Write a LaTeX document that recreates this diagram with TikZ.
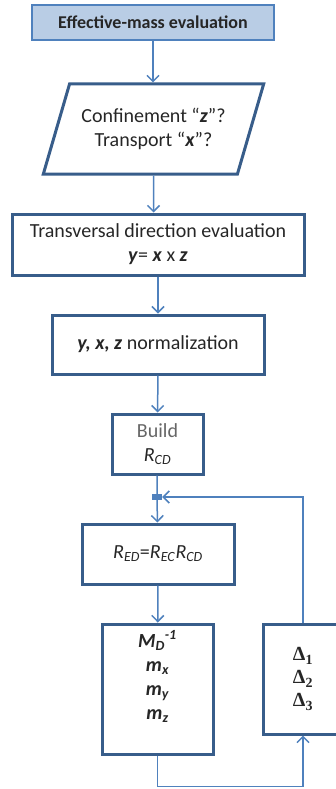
\documentclass[tikz,border=0pt]{standalone}
\usepackage{fontspec}
\setmainfont{Carlito}
\newfontfamily\deltafont{Liberation Serif}
\usetikzlibrary{arrows.meta,calc,shapes.geometric}
\definecolor{bordo}{RGB}{56,93,138}
\definecolor{linea}{RGB}{79,129,189}
\definecolor{sfondo}{RGB}{185,205,229}
\tikzset{
>={Straight Barb[length=6pt,width=12pt]},
step node/.style={rectangle,draw=bordo,line width=3pt,align=center,inner sep=1pt},
title node/.style={rectangle,draw=linea,fill=sfondo,line width=1.5pt,align=center,font=\fontsize{18}{22}\selectfont\bfseries},
input node/.style={trapezium,trapezium left angle=64,trapezium right angle=116,trapezium stretches=true,draw=bordo,line width=3pt,align=center},
freccia/.style={->,draw=linea,line width=1.5pt}}

\begin{document}
\begin{tikzpicture}[x=1pt,y=-1pt,font=\fontsize{20}{24}\selectfont,text=black!85]
      \useasboundingbox (0,0) rectangle (335,789);

      \node[title node,minimum width=242pt,minimum height=35pt] (1) at (153,22.5) {Effective-mass evaluation};
      \node[input node,minimum width=221pt,minimum height=90pt] (2) at (153.5,129) {Confinement ``\textbf{\textit{z}}''?\\ Transport ``\textbf{\textit{x}}''?};
      \node[step node,minimum width=292pt,minimum height=61pt] (3) at (158,244.5) {Transversal direction evaluation\\ \textbf{\textit{y}}= \textbf{\textit{x}} x \textbf{\textit{z}}};
      \node[step node,minimum width=212pt,minimum height=59pt] (4) at (158,344.5) {\textbf{\textit{y, x, z}} normalization};
      \node[step node,minimum width=91pt,minimum height=60pt] (5) at (157.5,444) {\textcolor{black!60}{Build}\\ \textit{R}\textsubscript{\textit{CD}}};
      \node[fill=linea,minimum width=10pt,minimum height=6pt,inner sep=0pt] (6) at (157,497) {};
      \node[step node,minimum width=152pt,minimum height=60pt] (7) at (158,554) {\textit{R}\textsubscript{\textit{ED}}=\textit{R}\textsubscript{\textit{EC}}\textit{R}\textsubscript{\textit{CD}}};
      \node[step node,minimum width=111pt,minimum height=130pt,font=\fontsize{20}{24}\selectfont\bfseries\itshape] (8) at (157.5,689) {M\textsubscript{D}\textsuperscript{-1}\\ m\textsubscript{x}\\ m\textsubscript{y}\\ m\textsubscript{z}\\[4pt]\mbox{}};
      \node[step node,minimum width=80pt,minimum height=110pt,font=\fontsize{20}{23}\deltafont\bfseries] (9) at (303,679) {Δ\textsubscript{1}\\ Δ\textsubscript{2}\\ Δ\textsubscript{3}};

      \draw[freccia] (1) -- (1 |- 2.north);
      \draw[freccia] (2) -- (2 |- 3.north);
      \path[freccia] (3) edge (4) (4) edge (5) (6) edge (7) (7) edge (8);
      \draw[draw=linea,line width=1.5pt] (5) -- (6);
      \draw[freccia] (8.south) -- ++(0,31) -| (9.south);
      \draw[freccia] (9.north) |- (6.east);
\end{tikzpicture}
\end{document}
